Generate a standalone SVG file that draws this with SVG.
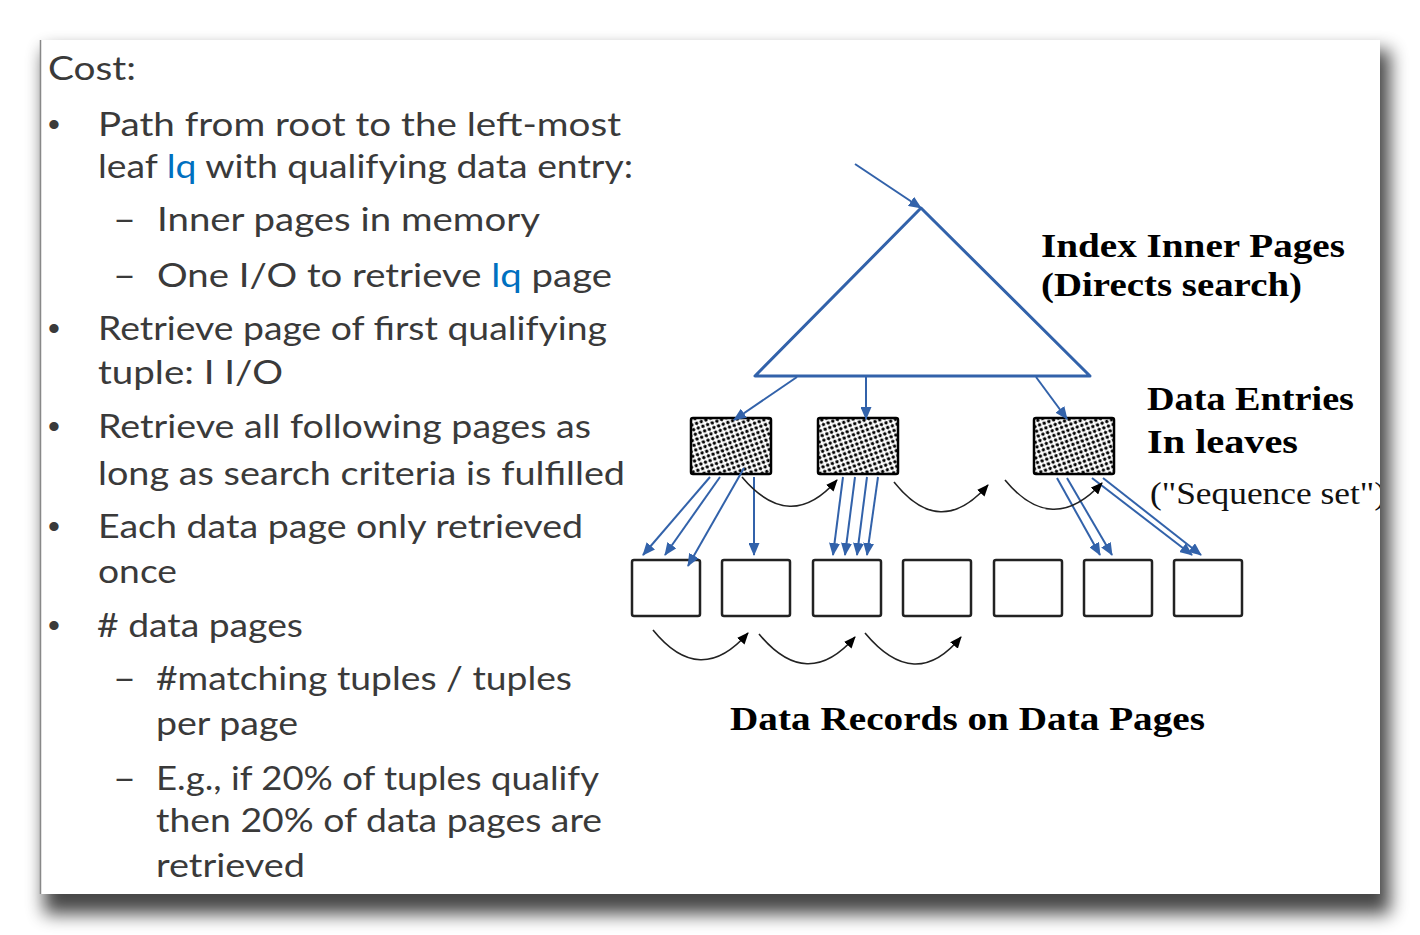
<svg xmlns="http://www.w3.org/2000/svg" width="1420" height="935" viewBox="0 0 1420 935">
<defs>
<style>
.t{font-family:Lato,"Open Sans","Liberation Sans",sans-serif;font-size:33px;fill:#3a3a3a}
.b{font-family:"Liberation Sans",Arial,sans-serif;font-size:34px;fill:#3a3a3a}
.lq{fill:#0070c0}
.s{font-family:"Liberation Serif","Times New Roman",serif;font-size:33px;font-weight:bold;fill:#000}
.sr{font-family:"Liberation Serif","Times New Roman",serif;font-size:31px;fill:#111}
.blue{stroke:#3262aa;stroke-width:2;fill:none}
.curve{stroke:#222;stroke-width:1.6;fill:none}
.page{fill:#fff;stroke:#222;stroke-width:2.5}
.leaf{fill:url(#dots);stroke:#000;stroke-width:2.5}
</style>
<filter id="sh" x="-5%" y="-5%" width="110%" height="115%">
<feGaussianBlur stdDeviation="9"/>
</filter>
<pattern id="dots" width="7" height="7" patternUnits="userSpaceOnUse" patternTransform="rotate(25)">
<rect width="7" height="7" fill="#fff"/>
<circle cx="1.75" cy="1.75" r="1.7" fill="#000"/>
<circle cx="5.25" cy="5.25" r="1.7" fill="#000"/>
</pattern>
<marker id="ab" markerUnits="userSpaceOnUse" markerWidth="13" markerHeight="11" refX="12" refY="5.5" orient="auto">
<path d="M0,0 L13,5.5 L0,11 z" fill="#3262aa"/>
</marker>
<marker id="ak" markerUnits="userSpaceOnUse" markerWidth="12" markerHeight="10" refX="11" refY="5" orient="auto">
<path d="M0,0 L12,5 L0,10 z" fill="#000"/>
</marker>
<clipPath id="slide"><rect x="41" y="40" width="1339" height="854"/></clipPath>
</defs>
<rect width="1420" height="935" fill="#fff"/>
<rect x="44" y="50" width="1346" height="864" fill="#000" opacity="0.72" filter="url(#sh)"/>
<rect x="41" y="40" width="1339" height="854" fill="#fff"/>
<line x1="40.5" y1="40" x2="40.5" y2="894" stroke="#888" stroke-width="1.5"/>

<g id="text-left">
<text class="t" x="48" y="80" textLength="88" lengthAdjust="spacingAndGlyphs">Cost:</text>
<text class="b" x="48" y="136">•</text>
<text class="t" x="98" y="136" textLength="523" lengthAdjust="spacingAndGlyphs">Path from root to the left-most</text>
<text class="t" x="98" y="178" textLength="535" lengthAdjust="spacingAndGlyphs">leaf <tspan class="lq">lq</tspan> with qualifying data entry:</text>
<text class="t" x="113" y="231" textLength="23" lengthAdjust="spacingAndGlyphs">–</text>
<text class="t" x="157" y="231" textLength="383" lengthAdjust="spacingAndGlyphs">Inner pages in memory</text>
<text class="t" x="113" y="287" textLength="23" lengthAdjust="spacingAndGlyphs">–</text>
<text class="t" x="157" y="287" textLength="455" lengthAdjust="spacingAndGlyphs">One I/O to retrieve <tspan class="lq">lq</tspan> page</text>
<text class="b" x="48" y="340">•</text>
<text class="t" x="98" y="340" textLength="509" lengthAdjust="spacingAndGlyphs">Retrieve page of first qualifying</text>
<text class="t" x="98" y="384" textLength="185" lengthAdjust="spacingAndGlyphs">tuple: I I/O</text>
<text class="b" x="48" y="438">•</text>
<text class="t" x="98" y="438" textLength="493" lengthAdjust="spacingAndGlyphs">Retrieve all following pages as</text>
<text class="t" x="98" y="485" textLength="527" lengthAdjust="spacingAndGlyphs">long as search criteria is fulfilled</text>
<text class="b" x="48" y="538">•</text>
<text class="t" x="98" y="538" textLength="485" lengthAdjust="spacingAndGlyphs">Each data page only retrieved</text>
<text class="t" x="98" y="583" textLength="79" lengthAdjust="spacingAndGlyphs">once</text>
<text class="b" x="48" y="637">•</text>
<text class="t" x="97" y="637" textLength="206" lengthAdjust="spacingAndGlyphs"># data pages</text>
<text class="t" x="113" y="690" textLength="23" lengthAdjust="spacingAndGlyphs">–</text>
<text class="t" x="156" y="690" textLength="416" lengthAdjust="spacingAndGlyphs">#matching tuples / tuples</text>
<text class="t" x="156" y="735" textLength="142" lengthAdjust="spacingAndGlyphs">per page</text>
<text class="t" x="113" y="790" textLength="23" lengthAdjust="spacingAndGlyphs">–</text>
<text class="t" x="156" y="790" textLength="443" lengthAdjust="spacingAndGlyphs">E.g., if 20% of tuples qualify</text>
<text class="t" x="156" y="832" textLength="446" lengthAdjust="spacingAndGlyphs">then 20% of data pages are</text>
<text class="t" x="156" y="877" textLength="149" lengthAdjust="spacingAndGlyphs">retrieved</text>
</g>

<g id="index-tree">
<polygon points="921,208 755,376 1090,376" fill="none" stroke="#3262aa" stroke-width="3" stroke-linejoin="round"/>
</g>
<g id="leaf-1"><rect class="leaf" x="691" y="418" width="80" height="56" rx="2"/></g>
<g id="leaf-2"><rect class="leaf" x="818" y="418" width="80" height="56" rx="2"/></g>
<g id="leaf-3"><rect class="leaf" x="1034" y="418" width="80" height="56" rx="2"/></g>

<g id="page-1"><rect class="page" x="632" y="560" width="68" height="56" rx="2"/></g>
<g id="page-2"><rect class="page" x="722" y="560" width="68" height="56" rx="2"/></g>
<g id="page-3"><rect class="page" x="813" y="560" width="68" height="56" rx="2"/></g>
<g id="page-4"><rect class="page" x="903" y="560" width="68" height="56" rx="2"/></g>
<g id="page-5"><rect class="page" x="994" y="560" width="68" height="56" rx="2"/></g>
<g id="page-6"><rect class="page" x="1084" y="560" width="68" height="56" rx="2"/></g>
<g id="page-7"><rect class="page" x="1174" y="560" width="68" height="56" rx="2"/></g>

<g id="connectors">
<path class="blue" d="M855,164 L921,208" marker-end="url(#ab)"/>
<path class="blue" d="M797,377 L734,420" marker-end="url(#ab)"/>
<path class="blue" d="M866,377 L866,419" marker-end="url(#ab)"/>
<path class="blue" d="M1036,377 L1067,419" marker-end="url(#ab)"/>
<path class="blue" d="M710,477 L643,555" marker-end="url(#ab)"/>
<path class="blue" d="M720,477 L665,555" marker-end="url(#ab)"/>
<path class="blue" d="M744,468 L688,566" marker-end="url(#ab)"/>
<path class="blue" d="M754,477 L754,555" marker-end="url(#ab)"/>
<path class="blue" d="M843,477 L833,555" marker-end="url(#ab)"/>
<path class="blue" d="M855,477 L845,555" marker-end="url(#ab)"/>
<path class="blue" d="M867,477 L857,555" marker-end="url(#ab)"/>
<path class="blue" d="M878,477 L867,555" marker-end="url(#ab)"/>
<path class="blue" d="M1057,478 L1100,555" marker-end="url(#ab)"/>
<path class="blue" d="M1067,478 L1112,555" marker-end="url(#ab)"/>
<path class="blue" d="M1092,478 L1192,555" marker-end="url(#ab)"/>
<path class="blue" d="M1103,478 L1201,555" marker-end="url(#ab)"/>
<path class="curve" d="M742,477 Q790,534 837,480" marker-end="url(#ak)"/>
<path class="curve" d="M894,482 Q940,540 988,485" marker-end="url(#ak)"/>
<path class="curve" d="M1005,480 Q1052,537 1102,483" marker-end="url(#ak)"/>
<path class="curve" d="M653,630 Q700,688 748,633" marker-end="url(#ak)"/>
<path class="curve" d="M759,634 Q807,692 855,637" marker-end="url(#ak)"/>
<path class="curve" d="M865,633 Q915,693 961,637" marker-end="url(#ak)"/>
</g>

<g id="labels">
<text class="s" x="1041" y="257" textLength="304" lengthAdjust="spacingAndGlyphs">Index Inner Pages</text>
<text class="s" x="1041" y="296" textLength="261" lengthAdjust="spacingAndGlyphs">(Directs search)</text>
<text class="s" x="1147" y="410" textLength="207" lengthAdjust="spacingAndGlyphs">Data Entries</text>
<text class="s" x="1147" y="453" textLength="151" lengthAdjust="spacingAndGlyphs">In leaves</text>
<g clip-path="url(#slide)">
<text class="sr" x="1150" y="504" textLength="236" lengthAdjust="spacingAndGlyphs">("Sequence set")</text>
</g>
<text class="s" x="730" y="730" font-size="35" textLength="475" lengthAdjust="spacingAndGlyphs">Data Records on Data Pages</text>
</g>
</svg>
